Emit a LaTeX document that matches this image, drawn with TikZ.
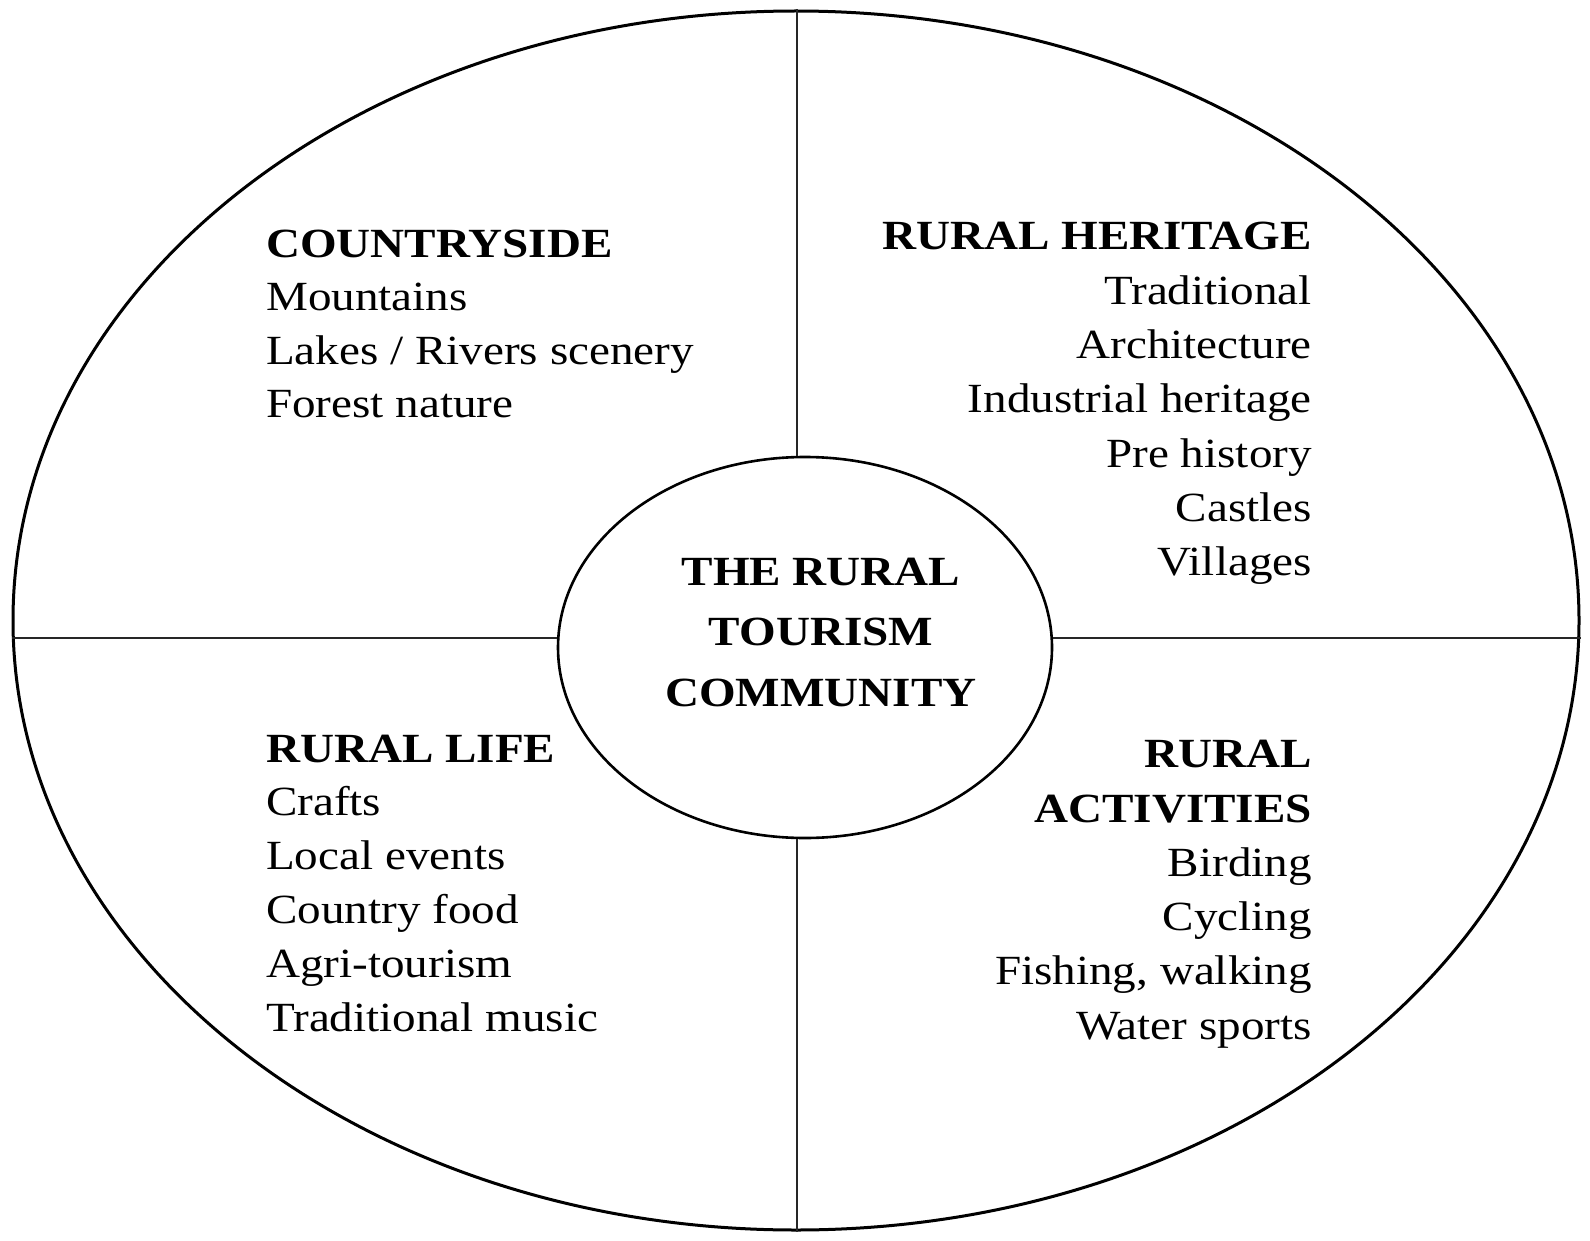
\documentclass[tikz,border=0pt]{standalone}
\usepackage{fontspec}
\setmainfont[FakeStretch=1.135]{Liberation Serif}
\usetikzlibrary{shapes.geometric}
\begin{document}
\begin{tikzpicture}[x=1pt,y=-1pt,
  txt/.style={inner sep=0pt, font=\fontsize{41.5}{53}\selectfont},
  hd/.style={inner sep=0pt, font=\fontsize{41.5}{53}\selectfont\bfseries},
  divline/.style={line width=2pt, draw=black!85},
  oval/.style={draw, ellipse, inner sep=0pt}]
\useasboundingbox[fill=white] (0,0) rectangle (1590,1241);
% ellipses
\node[oval, line width=3pt, minimum width=1566pt, minimum height=1219pt] (outer) at (796,620.5) {};
\node[oval, line width=2.6pt, minimum width=494pt, minimum height=381pt] (inner) at (805,647.5) {};
% dividing lines
\coordinate (vx) at (797,0);
\coordinate (hy) at (0,638);
\draw[divline] (vx |- outer.north) -- (vx |- inner.north);
\draw[divline] (vx |- inner.south) -- (vx |- outer.south);
\draw[divline] (outer.west |- hy) -- (inner.west |- hy);
\draw[divline] (inner.east |- hy) -- (outer.east |- hy);
% centre
\node[hd, anchor=base] (c1) at (821,585) {THE RURAL};
\node[hd, anchor=base] (c2) at (821,645) {TOURISM};
\node[hd, anchor=base] (c3) at (821,706) {COMMUNITY};
% countryside
\node[hd, anchor=base west] (csh) at (266,258) {COUNTRYSIDE};
\foreach \t [count=\i] in {Mountains, Lakes / Rivers scenery, Forest nature}
  \node[txt, anchor=base west] (cs\i) at (266,{258+53*\i}) {\t};
% rural heritage
\node[hd, anchor=base east] (rhh) at (1312,250) {RURAL HERITAGE};
\foreach \t [count=\i] in {Traditional, Architecture, Industrial heritage, Pre history, Castles, Villages}
  \node[txt, anchor=base east] (rh\i) at (1312,{250+54.3*\i}) {\t};
% rural life
\node[hd, anchor=base west] (rlh) at (266,762) {RURAL LIFE};
\foreach \t [count=\i] in {Crafts, Local events, Country food, Agri-tourism, Traditional music}
  \node[txt, anchor=base west] (rl\i) at (266,{762+53.8*\i}) {\t};
% rural activities
\node[hd, anchor=base east] (rah1) at (1312,767) {RURAL};
\node[hd, anchor=base east] (rah2) at (1312,822) {ACTIVITIES};
\foreach \t [count=\i] in {Birding, Cycling, {Fishing, walking}, Water sports}
  \node[txt, anchor=base east] (ra\i) at (1312,{822+54.3*\i}) {\t};
\end{tikzpicture}
\end{document}
